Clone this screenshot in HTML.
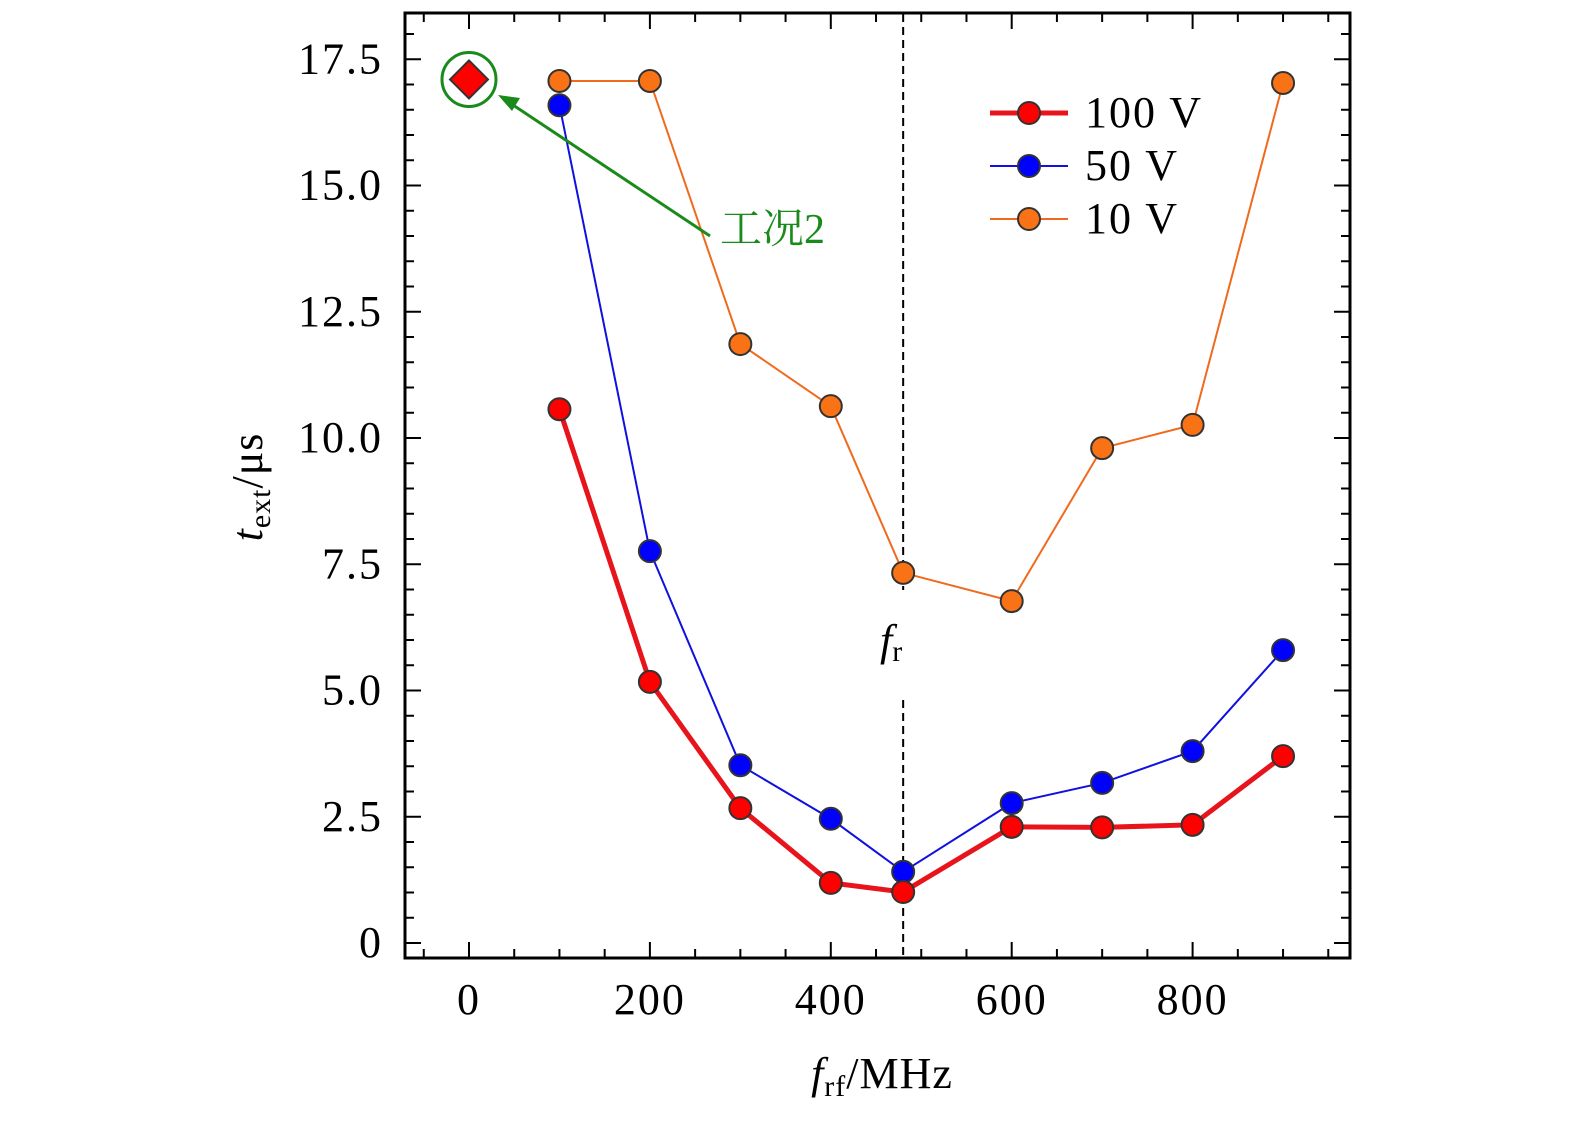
<!DOCTYPE html>
<html><head><meta charset="utf-8"><style>
body{margin:0;background:#fff;}
svg text{font-family:"Liberation Serif","Noto Serif CJK SC",serif;}
</style></head><body>
<svg id="chart" width="1575" height="1122" xmlns="http://www.w3.org/2000/svg">
<g id="ticks"></g>
<g id="series"></g>
<rect x="405" y="13" width="945" height="945" fill="none" stroke="#000" stroke-width="3"/>
<text x="0" y="0" font-size="44" letter-spacing="1" transform="translate(262,487) rotate(-90)" text-anchor="middle"><tspan font-style="italic">t</tspan><tspan font-size="30" dy="8">ext</tspan><tspan dy="-8">/μs</tspan></text>
<text x="882" y="1088" font-size="44" letter-spacing="1" text-anchor="middle"><tspan font-style="italic">f</tspan><tspan font-size="30" dy="8">rf</tspan><tspan dy="-8">/MHz</tspan></text>
<text x="880" y="655" font-size="44"><tspan font-style="italic">f</tspan><tspan font-size="30" dy="6">r</tspan></text>
<g>
<line x1="990" y1="113" x2="1068" y2="113" stroke="#e8141b" stroke-width="5"/><circle cx="1029" cy="113" r="11" fill="#f00" stroke="#333" stroke-width="2"/>
<text x="1085" y="127" font-size="44" letter-spacing="2">100 V</text>
<line x1="990" y1="166" x2="1068" y2="166" stroke="#1010e0" stroke-width="2"/><circle cx="1029" cy="166" r="11" fill="#00f" stroke="#333" stroke-width="2"/>
<text x="1085" y="180" font-size="44" letter-spacing="2">50 V</text>
<line x1="990" y1="219" x2="1068" y2="219" stroke="#f06a1e" stroke-width="2"/><circle cx="1029" cy="219" r="11" fill="#f97316" stroke="#333" stroke-width="2"/>
<text x="1085" y="233" font-size="44" letter-spacing="2">10 V</text>
</g>
<g>
<line x1="710" y1="236" x2="510" y2="103" stroke="#1a8a1a" stroke-width="3"/>
<polygon points="498,95 520,98 512,111" fill="#1a8a1a"/>
<text x="720" y="243" font-size="42" fill="#1a8a1a">工况2</text>
</g>
</svg>
<script>
const xVals=[100,200,300,400,480,600,700,800,900];
const v100=[10.57,5.17,2.67,1.19,1.01,2.30,2.29,2.34,3.70];
const v50=[16.59,7.76,3.52,2.46,1.41,2.77,3.17,3.80,5.80];
const v10=[17.07,17.07,11.86,10.63,7.33,6.77,9.80,10.26,17.03];
const xTickLabels=[0,200,400,600,800];
const yTickLabels=["0","2.5","5.0","7.5","10.0","12.5","15.0","17.5"];
const yTickVals=[0,2.5,5,7.5,10,12.5,15,17.5];
const frValue=480;
const case2=[0,17.1];
const NS="http://www.w3.org/2000/svg";
function X(v){return 469+v*0.9045;}
function Y(v){return 943-v*50.5;}
function mk(t,a,p){const e=document.createElementNS(NS,t);for(const k in a)e.setAttribute(k,a[k]);p.appendChild(e);return e;}
const tk=document.getElementById('ticks'),sr=document.getElementById('series');
for(let v=-50;v<=950;v+=50){const x=X(v);if(x<406||x>1349)continue;const L=v%200===0?16:9;
mk('line',{x1:x,y1:958,x2:x,y2:958-L,stroke:'#000','stroke-width':2},tk);
mk('line',{x1:x,y1:13,x2:x,y2:13+L,stroke:'#000','stroke-width':2},tk);}
for(let v=0;v<=18.5;v+=0.5){const y=Y(v);if(y<14||y>957)continue;const L=(Math.abs(v/2.5-Math.round(v/2.5))<1e-6)?16:9;
mk('line',{x1:405,y1:y,x2:405+L,y2:y,stroke:'#000','stroke-width':2},tk);
mk('line',{x1:1350,y1:y,x2:1350-L,y2:y,stroke:'#000','stroke-width':2},tk);}
xTickLabels.forEach(v=>{const t=mk('text',{x:X(v),y:1014,'font-size':44,'letter-spacing':2,'text-anchor':'middle'},tk);t.textContent=v;

});
yTickVals.forEach((v,i)=>{const t=mk('text',{x:383,y:Y(v)+14,'font-size':44,'letter-spacing':2,'text-anchor':'end'},tk);t.textContent=yTickLabels[i];

});
const fx=X(frValue);
const d1=mk('line',{x1:fx,y1:14,x2:fx,y2:590,stroke:'#000','stroke-width':2,'stroke-dasharray':'8,5'},sr);


const d2=mk('line',{x1:fx,y1:700,x2:fx,y2:957,stroke:'#000','stroke-width':2,'stroke-dasharray':'8,5'},sr);


function series(vals,color,fill,w,name){
const pl=mk('polyline',{points:xVals.map((x,i)=>X(x)+','+Y(vals[i])).join(' '),fill:'none',stroke:color,'stroke-width':w},sr);


vals.forEach((v,i)=>{const c=mk('circle',{cx:X(xVals[i]),cy:Y(v),r:11,fill:fill,stroke:'#333','stroke-width':2},sr);

});}
series(v10,'#f06a1e','#f97316',2,'series-10v');
series(v50,'#1010e0','#0000ff',2,'series-50v');
series(v100,'#e8141b','#ff0000',5,'series-100v');
const cx=X(case2[0]),cy=Y(case2[1]);
const ring=mk('circle',{cx:cx,cy:cy,r:27,fill:'none',stroke:'#1a8a1a','stroke-width':3},sr);


const dm=mk('polygon',{points:`${cx},${cy-19} ${cx+19},${cy} ${cx},${cy+19} ${cx-19},${cy}`,fill:'#f00',stroke:'#333','stroke-width':2},sr);


</script>
</body></html>
